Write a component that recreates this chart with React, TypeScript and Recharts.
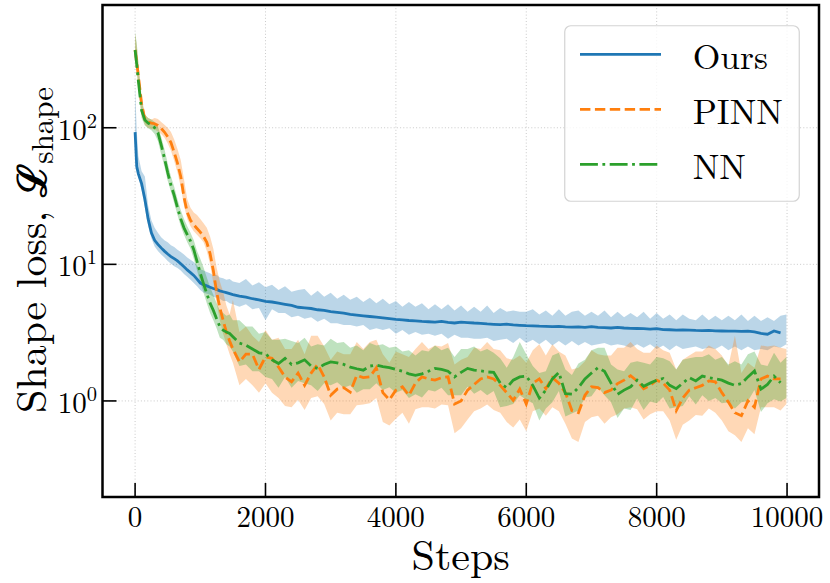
import React from 'react';
import { ComposedChart, Area, Line, XAxis, YAxis, CartesianGrid, ReferenceArea, Legend } from 'recharts';

const STEPS = [
  0, 25, 50, 100, 150, 200, 250, 300, 350, 400,
  450, 500, 550, 600, 650, 700, 750, 800, 850, 900,
  950, 1000, 1050, 1100, 1150, 1200, 1250, 1300, 1350, 1400,
  1450, 1500,
  1600, 1700, 1800, 1900, 2000, 2100, 2200, 2300, 2400, 2500,
  2600, 2700, 2800, 2900, 3000, 3100, 3200, 3300, 3400, 3500,
  3600, 3700, 3800, 3900, 4000, 4100, 4200, 4300, 4400, 4500,
  4600, 4700, 4800, 4900, 5000, 5100, 5200, 5300, 5400, 5500,
  5600, 5700, 5800, 5900, 6000, 6100, 6200, 6300, 6400, 6500,
  6600, 6700, 6800, 6900, 7000, 7100, 7200, 7300, 7400, 7500,
  7600, 7700, 7800, 7900, 8000, 8100, 8200, 8300, 8400, 8500,
  8600, 8700, 8800, 8900, 9000, 9100, 9200, 9300, 9400, 9500,
  9600, 9700, 9800, 9900, 9990,
];

// Ours
const OURS_MEAN = [
  93, 52, 46, 39, 30, 21.5, 17, 15, 14, 13.2,
  12.5, 11.9, 11.4, 11.0, 10.6, 10.1, 9.6, 9.1, 8.7, 8.3,
  7.8, 7.3, 7.1, 6.95, 6.8, 6.65, 6.55, 6.4, 6.3, 6.2,
  6.1, 6.0,
  5.85, 5.75, 5.6, 5.5, 5.35, 5.3, 5.2, 5.1, 5.0, 4.85,
  4.8, 4.75, 4.65, 4.6, 4.5, 4.45, 4.4, 4.3, 4.25, 4.2,
  4.15, 4.1, 4.05, 4.0, 3.95, 3.92, 3.88, 3.85, 3.82, 3.8,
  3.78, 3.82, 3.76, 3.72, 3.78, 3.75, 3.72, 3.7, 3.66, 3.64,
  3.62, 3.65, 3.6, 3.58, 3.56, 3.55, 3.53, 3.52, 3.5, 3.52,
  3.48, 3.47, 3.48, 3.46, 3.5, 3.45, 3.44, 3.42, 3.45, 3.42,
  3.4, 3.39, 3.38, 3.36, 3.38, 3.33, 3.32, 3.3, 3.31, 3.3,
  3.28, 3.27, 3.28, 3.26, 3.25, 3.24, 3.24, 3.23, 3.24, 3.2,
  3.12, 3.08, 3.25, 3.15, null,
];
const OURS_HI = [
  200, 96, 62, 48, 44, 27, 21, 18.5, 17, 15.8,
  15, 14.5, 13.8, 13.4, 12.8, 12.3, 11.8, 11.2, 10.8, 10.4,
  9.8, 9.2, 9.0, 8.8, 8.6, 8.3, 8.4, 8.0, 7.9, 7.7,
  7.8, 7.5,
  7.3, 7.8, 7.0, 7.4, 6.8, 7.1, 6.5, 6.9, 6.3, 6.5,
  6.6, 5.9, 6.4, 5.8, 6.2, 5.6, 6.0, 5.5, 5.8, 5.3,
  5.7, 5.2, 5.6, 5.1, 5.4, 4.9, 5.3, 4.9, 5.2, 4.7,
  5.1, 4.7, 5.1, 4.6, 5.0, 4.5, 4.9, 4.5, 5.0, 4.4,
  4.8, 4.5, 4.6, 4.5, 4.5, 4.7, 4.3, 4.6, 4.2, 4.7,
  4.2, 4.5, 4.6, 4.2, 4.5, 4.2, 4.6, 4.1, 4.5, 4.1,
  4.4, 4.1, 4.5, 4.0, 4.4, 4.0, 4.3, 3.9, 4.3, 4.0,
  3.9, 4.3, 3.9, 4.2, 3.9, 4.2, 3.9, 4.3, 3.85, 4.2,
  3.85, 4.1, 3.85, 4.2, 4.3,
];
const OURS_LO = [
  90, 50, 43, 35, 26, 19, 15.5, 13.5, 12.5, 11.8,
  11.2, 10.6, 10.1, 9.7, 9.4, 9.0, 8.5, 8.1, 7.7, 7.3,
  6.9, 6.5, 6.2, 6.1, 6.0, 5.8, 5.7, 5.6, 5.4, 5.4,
  5.2, 5.1,
  4.9, 5.1, 4.7, 4.8, 3.9, 4.7, 4.4, 4.4, 4.1, 4.2,
  4.0, 4.1, 3.8, 4.0, 3.7, 3.7, 3.6, 3.6, 3.5, 3.6,
  3.3, 3.4, 3.3, 3.4, 3.1, 3.3, 3.05, 3.2, 3.05, 3.1,
  3.0, 3.1, 2.85, 3.05, 2.9, 2.9, 2.85, 2.85, 2.9, 2.75,
  2.8, 2.85, 2.65, 2.9, 2.65, 2.8, 2.6, 2.8, 2.55, 2.75,
  2.55, 2.75, 2.55, 2.7, 2.55, 2.6, 2.65, 2.55, 2.6, 2.55,
  2.45, 2.6, 2.45, 2.6, 2.4, 2.55, 2.35, 2.55, 2.4, 2.45,
  2.5, 2.4, 2.45, 2.4, 2.55, 2.35, 2.5, 2.35, 2.5, 2.35,
  2.4, 2.35, 2.5, 2.45, 2.6,
];

// PINN
const PINN_MEAN = [
  371, 300, 240, 150, 115, 110, 108, 107, 104, 99,
  93, 86, 78, 66, 55, 44, 31, 24, 21, 19.5,
  18.3, 17.2, 16, 14.5, 12, 9, 6.3, 4.8, 3.9, 3.2,
  2.75, 2.4,
  1.93, 2.2, 2.2, 1.7, 2.1, 2.05, 1.77, 1.5, 1.38, 1.6,
  1.3, 1.6, 1.85, 1.5, 1.1, 1.22, 1.25, 1.16, 1.54, 1.48,
  1.5, 1.75, 1.15, 1.02, 1.2, 1.27, 1.1, 1.35, 1.5, 1.45,
  1.42, 1.48, 1.5, 0.95, 1.0, 1.2, 1.32, 1.45, 1.5, 1.45,
  1.3, 1.15, 1.01, 1.22, 0.95, 1.35, 1.45, 1.23, 1.48, 1.35,
  1.15, 0.85, 0.82, 1.1, 1.27, 1.25, 1.15, 1.2, 1.34, 1.42,
  1.53, 1.4, 1.23, 1.3, 1.42, 1.35, 1.2, 0.85, 1.05, 1.2,
  1.25, 1.3, 1.4, 1.38, 1.15, 0.98, 0.82, 0.78, 1.0, 0.9,
  1.45, 1.52, 1.45, 1.45, null,
];
const PINN_HI = [
  490, 400, 300, 170, 125, 118, 115, 118, 116, 110,
  105, 100, 93, 82, 70, 58, 42, 30, 26, 24,
  23, 21.5, 20, 18.5, 16, 13, 9.5, 7.5, 6.3, 5,
  4.3, 5.5,
  3.2, 3.5, 3.0, 2.7, 3.3, 2.8, 2.9, 2.4, 2.4, 2.8,
  2.2, 3.0, 3.0, 2.5, 2.0, 2.3, 2.2, 2.2, 2.7, 2.4,
  2.7, 2.8, 2.2, 1.9, 2.3, 2.2, 2.1, 2.4, 2.7, 2.4,
  2.55, 2.5, 2.65, 1.85, 2.0, 2.1, 2.45, 2.4, 2.7, 2.4,
  2.35, 2.05, 2.0, 2.15, 1.9, 2.35, 2.6, 2.15, 2.6, 2.3,
  2.15, 1.7, 1.75, 1.95, 2.35, 2.2, 2.15, 2.15, 2.45, 2.45,
  2.7, 2.4, 2.25, 2.25, 2.55, 2.35, 2.25, 1.7, 2.0, 2.15,
  2.3, 2.3, 2.55, 2.4, 2.15, 1.8, 3.0, 1.6, 1.9, 1.75,
  2.55, 2.5, 2.55, 2.45, 2.4,
];
const PINN_LO = [
  330, 260, 200, 125, 105, 100, 98, 97, 94, 90,
  85, 77, 68, 57, 47, 37, 27, 21.5, 19, 17.5,
  16.5, 15.5, 14.5, 12.5, 10, 7.3, 5.2, 3.9, 3.1, 2.6,
  2.2, 1.9,
  1.3, 1.45, 1.3, 1.15, 1.35, 1.15, 1.05, 0.92, 0.9, 1.02,
  0.86, 1.05, 1.08, 0.95, 0.72, 0.82, 0.8, 0.8, 0.93, 0.94,
  0.96, 1.05, 0.7, 0.66, 0.74, 0.82, 0.68, 0.87, 0.9, 0.9,
  0.88, 0.94, 0.93, 0.58, 0.63, 0.73, 0.84, 0.88, 0.94, 0.86,
  0.82, 0.7, 0.64, 0.73, 0.6, 0.84, 0.88, 0.78, 0.9, 0.84,
  0.68, 0.53, 0.5, 0.7, 0.76, 0.78, 0.68, 0.76, 0.8, 0.88,
  0.9, 0.87, 0.73, 0.8, 0.84, 0.84, 0.72, 0.52, 0.67, 0.72,
  0.79, 0.78, 0.88, 0.82, 0.72, 0.6, 0.56, 0.5, 0.63, 0.57,
  0.9, 0.9, 0.9, 0.85, 0.95,
];

// NN
const NN_MEAN = [
  371, 290, 220, 134, 114, 108, 105, 100, 92, 75,
  60, 47, 38, 32, 26, 21.5, 18.5, 16.5, 14.8, 12.8,
  10.5, 8.6, 7.2, 6.1, 5.2, 4.6, 4.0, 3.5, 3.3, 3.2,
  3.12, 2.95,
  2.65, 2.56, 2.4, 2.25, 2.22, 2.0, 1.88, 2.05, 1.85, 1.9,
  2.0, 1.8, 1.73, 1.85, 1.93, 1.9, 1.85, 1.77, 1.72, 1.68,
  1.8, 1.83, 1.78, 1.75, 1.7, 1.65, 1.58, 1.54, 1.58, 1.65,
  1.73, 1.7, 1.65, 1.5, 1.62, 1.73, 1.68, 1.66, 1.63, 1.62,
  1.35, 1.25, 1.42, 1.5, 1.52, 1.3, 1.05, 1.2, 1.45, 1.62,
  1.13, 1.12, 1.25, 1.45, 1.6, 1.75, 1.65, 1.35, 1.12, 1.2,
  1.27, 1.42, 1.28, 1.35, 1.42, 1.46, 1.3, 1.23, 1.35, 1.48,
  1.4, 1.52, 1.48, 1.45, 1.42, 1.35, 1.3, 1.34, 1.5, 1.66,
  1.22, 1.32, 1.52, 1.36, null,
];
const NN_HI = [
  500, 420, 300, 160, 125, 118, 115, 110, 102, 86,
  70, 55, 44, 37, 30, 25, 21.5, 19, 17, 15,
  12.5, 11, 9.5, 8, 6.8, 6, 5.2, 4.6, 4.4, 4.2,
  4.3, 3.9,
  3.9, 3.5, 3.5, 3.1, 3.2, 2.8, 2.8, 2.85, 2.75, 2.65,
  2.9, 2.5, 2.6, 2.55, 2.85, 2.65, 2.7, 2.45, 2.55, 2.35,
  2.65, 2.55, 2.6, 2.45, 2.5, 2.3, 2.35, 2.15, 2.35, 2.3,
  2.55, 2.35, 2.45, 2.1, 2.4, 2.4, 2.5, 2.3, 2.4, 2.25,
  2.05, 1.75, 2.1, 2.7, 2.2, 1.8, 1.6, 1.65, 2.15, 2.25,
  1.7, 1.55, 1.88, 2.0, 2.35, 2.45, 2.45, 1.85, 1.7, 1.65,
  1.9, 1.95, 1.9, 1.85, 2.1, 2.05, 1.95, 1.7, 2.0, 2.05,
  2.1, 2.1, 2.2, 2.0, 2.1, 1.85, 1.95, 1.85, 2.2, 2.3,
  1.85, 1.8, 2.25, 1.9, 2.1,
];
const NN_LO = [
  340, 270, 190, 118, 104, 99, 96, 90, 80, 64,
  52, 41, 34, 28, 23, 19, 16.5, 14.5, 13, 11,
  9, 7.4, 6.2, 5.2, 4.4, 3.9, 3.4, 2.9, 2.8, 2.6,
  2.5, 2.3,
  1.8, 1.85, 1.65, 1.65, 1.5, 1.45, 1.25, 1.5, 1.25, 1.4,
  1.35, 1.3, 1.18, 1.35, 1.3, 1.37, 1.25, 1.3, 1.15, 1.22,
  1.22, 1.35, 1.2, 1.26, 1.15, 1.2, 1.05, 1.12, 1.06, 1.2,
  1.17, 1.25, 1.1, 1.1, 1.1, 1.27, 1.13, 1.2, 1.1, 1.18,
  0.9, 0.92, 0.95, 1.1, 1.02, 0.96, 0.72, 0.88, 0.98, 1.18,
  0.77, 0.81, 0.85, 1.06, 1.08, 1.26, 1.1, 0.98, 0.75, 0.88,
  0.86, 1.04, 0.86, 0.99, 0.96, 1.07, 0.88, 0.9, 0.92, 1.08,
  0.94, 1.1, 1.0, 1.05, 0.96, 0.98, 0.88, 0.98, 1.0, 1.2,
  0.83, 0.96, 1.03, 0.99, 1.05,
];

const X_TICKS = [0, 2000, 4000, 6000, 8000, 10000];
const Y_TICKS = [1, 10, 100];
const X_DOMAIN = [-500, 10490];
const Y_DOMAIN = [0.198, 792];

const SERIES = [
  { name: 'Ours', key: 'ours', color: '#1f77b4', dash: undefined as string | undefined },
  { name: 'PINN', key: 'pinn', color: '#ff7f0e', dash: '10.4 4.5' },
  { name: 'NN', key: 'nn', color: '#2ca02c', dash: '17.9 4.5 2.8 4.5' },
];

const data = STEPS.map((step, i) => ({
  step,
  ours: OURS_MEAN[i],
  oursBand: [OURS_LO[i], OURS_HI[i]],
  pinn: PINN_MEAN[i],
  pinnBand: [PINN_LO[i], PINN_HI[i]],
  nn: NN_MEAN[i],
  nnBand: [NN_LO[i], NN_HI[i]],
}));

const FONT = "'Latin Modern Roman', 'Liberation Serif', serif";
const TXT: React.CSSProperties = { fontFamily: FONT };

function XTick(props: any) {
  const { x, y, payload } = props;
  return (
    <g>
      <line x1={x} x2={x} y1={y} y2={y - 14} stroke="#000" strokeWidth={1.6} />
      <text x={x} y={y + 29.5} textAnchor="middle" style={TXT} fontSize={29} fill="#000">
        {payload.value}
      </text>
    </g>
  );
}

function YTick(props: any) {
  const { x, y, payload } = props;
  const exp = Math.round(Math.log10(payload.value));
  return (
    <g>
      <line x1={x} x2={x + 14} y1={y} y2={y} stroke="#000" strokeWidth={1.6} />
      <text x={x - 5.5} y={y + 12} textAnchor="end" style={TXT} fontSize={29} fill="#000">
        10
        <tspan dy={-12} fontSize={20.5}>
          {exp}
        </tspan>
      </text>
    </g>
  );
}

function XLabel() {
  return (
    <text x={460.7} y={570} textAnchor="middle" style={TXT} fontSize={42} fill="#000">
      Steps
    </text>
  );
}

function YLabel() {
  return (
    <text
      x={46}
      y={250}
      transform="rotate(-90 46 250)"
      textAnchor="middle"
      style={TXT}
      fontSize={42}
      fill="#000"
    >
      {'Shape loss, '}
      <tspan style={{ fontFamily: "'DejaVu Serif', serif" }} fontSize={40} fontWeight="bold">
        ℒ
      </tspan>
      <tspan fontSize={31} dy={7}>
        shape
      </tspan>
    </text>
  );
}

function LegendBox() {
  return (
    <svg width={236} height={177} style={{ display: 'block' }}>
      <rect x={0.75} y={0.75} width={234.5} height={175.5} rx={6} fill="#fff" fillOpacity={0.8} stroke="#d3d3d3" strokeWidth={1.2} />
      {SERIES.map((s, i) => {
        const ly = 29.3 + i * 55;
        return (
          <g key={s.name}>
            <line x1={16} x2={97} y1={ly} y2={ly} stroke={s.color} strokeWidth={2.8} strokeDasharray={s.dash} />
            <text x={128.7} y={ly + 14.5} style={TXT} fontSize={35.5} fill="#000">
              {s.name}
            </text>
          </g>
        );
      })}
    </svg>
  );
}

export default function App() {
  return (
    <div style={{ position: 'absolute', left: 0, top: 0, background: '#fff' }}>
      <ComposedChart width={830} height={583} data={data} margin={{ top: 5, right: 11, bottom: 0, left: 0 }}>
        <CartesianGrid stroke="#bdbdbd" strokeDasharray="1 2.2" strokeWidth={0.8} />
        <XAxis
          dataKey="step"
          type="number"
          domain={X_DOMAIN}
          ticks={X_TICKS}
          allowDataOverflow
          height={86}
          axisLine={false}
          tickLine={false}
          tickSize={0}
          tickMargin={0}
          tick={(p: any) => <XTick {...p} />}
          label={() => <XLabel />}
        />
        <YAxis
          scale="log"
          domain={Y_DOMAIN}
          ticks={Y_TICKS}
          allowDataOverflow
          width={102.5}
          axisLine={false}
          tickLine={false}
          tickSize={0}
          tickMargin={0}
          tick={(p: any) => <YTick {...p} />}
          label={() => <YLabel />}
        />
        <Area type="linear" dataKey="oursBand" stroke="none" fill="#1f77b4" fillOpacity={0.3} isAnimationActive={false} dot={false} activeDot={false} legendType="none" />
        <Line type="linear" dataKey="ours" stroke="#1f77b4" strokeWidth={2.8} dot={false} activeDot={false} isAnimationActive={false} />
        <Area type="linear" dataKey="pinnBand" stroke="none" fill="#ff7f0e" fillOpacity={0.3} isAnimationActive={false} dot={false} activeDot={false} legendType="none" />
        <Line type="linear" dataKey="pinn" stroke="#ff7f0e" strokeWidth={2.8} strokeDasharray="10.4 4.5" dot={false} activeDot={false} isAnimationActive={false} />
        <Area type="linear" dataKey="nnBand" stroke="none" fill="#2ca02c" fillOpacity={0.3} isAnimationActive={false} dot={false} activeDot={false} legendType="none" />
        <Line type="linear" dataKey="nn" stroke="#2ca02c" strokeWidth={2.8} strokeDasharray="17.9 4.5 2.8 4.5" dot={false} activeDot={false} isAnimationActive={false} />
        <ReferenceArea
          x1={X_DOMAIN[0]}
          x2={X_DOMAIN[1]}
          y1={Y_DOMAIN[0]}
          y2={Y_DOMAIN[1]}
          fill="none"
          stroke="#000"
          strokeWidth={2.5}
          ifOverflow="visible"
        />
        <Legend
          layout="vertical"
          align="center"
          verticalAlign="middle"
          wrapperStyle={{ left: 564, top: 25, width: 236, height: 177 }}
          content={() => <LegendBox />}
        />
      </ComposedChart>
    </div>
  );
}
